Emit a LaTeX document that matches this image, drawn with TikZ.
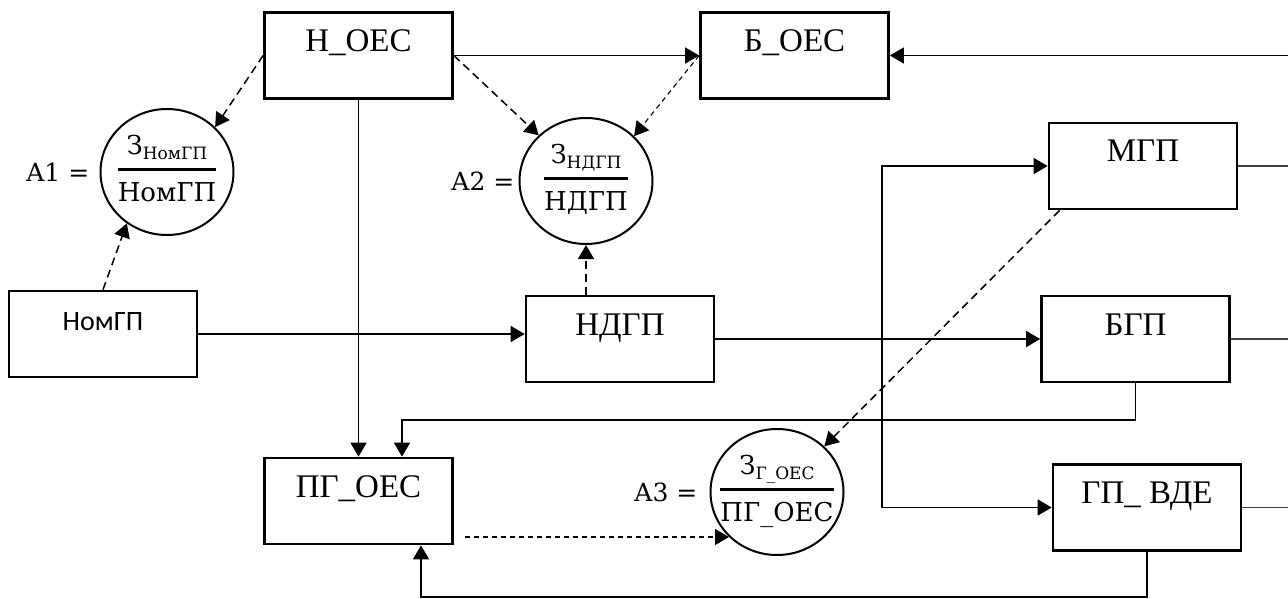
\documentclass[tikz,border=0pt]{standalone}
\usepackage{fontspec}
\setmainfont{Liberation Serif}
\newfontfamily\fmath{DejaVu Serif}
\newfontfamily\fsans{Carlito}
\usetikzlibrary{arrows.meta,shapes.geometric}
\setlength{\arrayrulewidth}{2.8pt}
\newcommand{\myfrac}[2]{\makebox[90pt][c]{\begin{tabular}{@{}c@{}}#1\\[5pt]\hline\rule{0pt}{31pt}#2\end{tabular}}}
\newcommand{\subtxt}[1]{\raisebox{-5pt}{\fontsize{17}{17}\selectfont #1}}
\begin{document}
\begin{tikzpicture}[x=1pt,y=-1pt,
  box/.style={draw,line width=2.7pt,minimum width=188pt,minimum height=86pt,inner sep=0pt,
    text height=22pt,text depth=30pt,font=\fontsize{33}{36}\selectfont},
  sbox/.style={box,font=\fsans\fontsize{28}{32}\selectfont},
  oval/.style={ellipse,draw,line width=2pt,minimum width=133pt,minimum height=126pt,inner sep=0pt,
    font=\fmath\fontsize{26}{30}\selectfont},
  eqlbl/.style={inner sep=0pt,anchor=east,font=\fmath\fontsize{25}{30}\selectfont},
  tip/.style={-{Triangle[length=14pt,width=16pt]}},
  arr/.style={tip,line width=1.5pt},
  darr/.style={tip,line width=1.5pt,dash pattern=on 8pt off 5pt},
  farr/.style={tip,line width=1.1pt,dash pattern=on 5pt off 4pt},
  stub/.style={line width=1.1pt,black!75}]
\useasboundingbox (0,0) rectangle (1288,599);

% boxes
\node[box] (hoec) at (358.5,55.5) {Н\_ОЕС};
\node[box] (boec) at (794.5,55.5) {Б\_ОЕС};
\node[box] (mgp) at (1143,166) {МГП};
\node[sbox] (nomgp) at (103,334) {НомГП};
\node[box] (ndgp) at (620,339) {НДГП};
\node[box] (bgp) at (1135.5,339) {БГП};
\node[box] (pgoec) at (358.5,501) {ПГ\_ОЕС};
\node[box] (gpvde) at (1147,507.5) {ГП\_ ВДЕ};

% ratio circles
\node[oval] (a1) at (167,172) {\myfrac{З\subtxt{НомГП}}{НомГП}};
\node[oval] (a2) at (586,181) {\myfrac{З\subtxt{НДГП}}{НДГП}};
\node[oval] (a3) at (777,492) {\myfrac{З\subtxt{Г\_ОЕС}}{ПГ\_ОЕС}};
\node[eqlbl] (l1) at ([xshift=-10pt]a1.west) {A1 =};
\node[eqlbl] (l2) at ([xshift=-4pt]a2.west) {A2 =};
\node[eqlbl] (l3) at ([xshift=-12pt]a3.west) {A3 =};

% coordinates
\coordinate (rin) at (1288,55.5);
\coordinate (j) at (882,339);
\coordinate (r1) at (1288,166);
\coordinate (r2) at (1288,339);
\coordinate (r3) at (1288,507.5);
\coordinate (b1) at (402,420);
\coordinate (b2) at (421,597);
\coordinate (p3) at (465,537);
\coordinate (a3in) at (729,537);

% solid connectors
\draw[arr] (hoec.east) -- (boec.west);
\draw[arr] (rin) -- (boec.east);
\draw[arr] (nomgp.east) -- (ndgp.west |- nomgp.east);
\draw[arr] (hoec.south) -- (pgoec.north);
\draw[line width=2.8pt] (ndgp.east) -- (j);
\draw[arr] (j) -- (bgp.west);
\draw[arr] (j) |- (mgp.west);
\draw[arr] (j) |- (gpvde.west);
\draw[stub] (mgp.east) -- (r1);
\draw[stub] (bgp.east) -- (r2);
\draw[stub] (gpvde.east) -- (r3);
\draw[arr] (bgp.south) |- (b1) -- (b1 |- pgoec.north);
\draw[arr] (gpvde.south) |- (b2) -- (b2 |- pgoec.south);

% dashed connectors
\draw[darr] (hoec.west) -- (a1.43);
\draw[darr] (hoec.east) -- (a2.136);
\draw[farr] (boec.west) -- (a2.43);
\draw[darr] (a2.south |- ndgp.north) -- (a2.south);
\draw[darr] (nomgp.north) -- (a1.232);
\draw[darr] ([xshift=12pt]mgp.south west) -- (a3.44);
\draw[farr] (p3) -- (a3in);
\end{tikzpicture}
\end{document}
